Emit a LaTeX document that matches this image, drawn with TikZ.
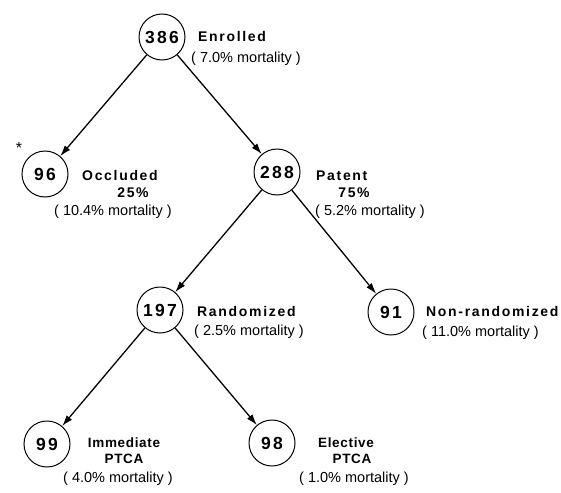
\documentclass[tikz,border=0pt]{standalone}
\usepackage{fontspec}
\setmainfont{Liberation Sans}
\newfontfamily\lblfont[LetterSpace=12]{Liberation Sans}
\newfontfamily\lbltfont[LetterSpace=5]{Liberation Sans}
\newfontfamily\numfont[LetterSpace=13]{Liberation Sans}
\usetikzlibrary{arrows.meta}
\begin{document}
\begin{tikzpicture}[x=1pt,y=-1pt,
  num/.style={circle,draw,line width=1pt,minimum size=46pt,inner sep=0pt,
    font=\numfont\bfseries\fontsize{17.5}{18}\selectfont},
  lbl/.style={inner sep=0pt,font=\lblfont\bfseries\fontsize{14}{16}\selectfont},
  lblb/.style={inner sep=0pt,font=\lbltfont\bfseries\fontsize{13.5}{16}\selectfont},
  mort/.style={inner sep=0pt,font=\fontsize{14.5}{16}\selectfont},
  arr/.style={line width=1.3pt,-{Latex[length=11pt,width=7pt]}}]
\useasboundingbox (0,0) rectangle (561,492);

\node[num] (n386) at (162,37) {386};
\node[num] (n96) at (45,174) {96};
\node[num] (n288) at (277,172) {288};
\node[num] (n197) at (160,310) {197};
\node[num] (n91) at (391,312) {91};
\node[num] (n99) at (47,444) {99};
\node[num] (n98) at (272,443) {98};

\node[inner sep=0pt,font=\fontsize{16}{16}\selectfont] (ast) at (19,148) {*};

\node[lbl,anchor=base west] (t1) at (198,42) {Enrolled};
\node[mort,anchor=base west] (m1) at (191,63) {( 7.0\% mortality )};

\node[lbl,anchor=base west] (t2) at (82,180) {Occluded};
\node[lbl,anchor=base] (p2) at (133,197) {25\%};
\node[mort,anchor=base] (m2) at (113,215) {( 10.4\% mortality )};

\node[lbl,anchor=base west] (t3) at (316,180) {Patent};
\node[lbl,anchor=base] (p3) at (354,197) {75\%};
\node[mort,anchor=base] (m3) at (370,215) {( 5.2\% mortality )};

\node[lbl,anchor=base west] (t4) at (197,316) {Randomized};
\node[mort,anchor=base west] (m4) at (194,335) {( 2.5\% mortality )};

\node[lbl,anchor=base west] (t5) at (426,316) {Non-randomized};
\node[mort,anchor=base west] (m5) at (422,336) {( 11.0\% mortality )};

\node[lblb,anchor=base] (t6) at (124,447) {Immediate};
\node[lblb,anchor=base] (u6) at (124,463) {PTCA};
\node[mort,anchor=base] (m6) at (118,482) {( 4.0\% mortality )};

\node[lblb,anchor=base] (t7) at (346,447) {Elective};
\node[lblb,anchor=base] (u7) at (352,463) {PTCA};
\node[mort,anchor=base] (m7) at (354,482) {( 1.0\% mortality )};

\draw[arr] (n386) -- (n96);
\draw[arr] (n386) -- (n288);
\draw[arr] (n288) -- (n197);
\draw[arr] (n288) -- (n91);
\draw[arr] (n197) -- (n99);
\draw[arr] (n197) -- (n98);
\end{tikzpicture}
\end{document}
